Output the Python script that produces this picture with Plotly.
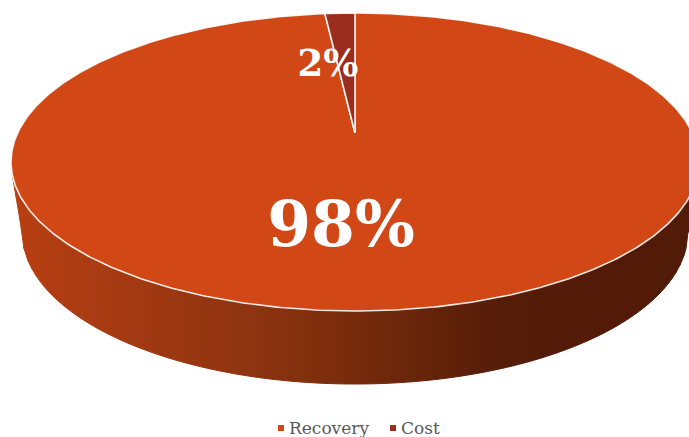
import numpy as np
import plotly.graph_objects as go

categories = ["Recovery", "Cost"]
values = [98.3, 1.7]
slice_colors = ["#D14816", "#9B2D1F"]

W, H = 689, 437
CX, CY, A, B = 355.0, 162.0, 344.0, 149.0     # top ellipse
BOT_CY, BOT_A, BOT_B = 232.0, 333.0, 152.0    # bottom ellipse
TOP_Y, APEX_Y, LOW_Y = 13.0, 133.0, 311.0


def project(theta):
    """Disc angle (clockwise from 12 o'clock) to picture position, with perspective."""
    u, v = np.sin(theta), np.cos(theta)
    g = (2 * APEX_Y - TOP_Y - LOW_Y) / (TOP_Y - LOW_Y)
    al = TOP_Y * (1 + g) - APEX_Y
    d = 1 + g * v
    k = A * np.sqrt(1 - g * g)
    return CX + k * u / d, (al * v + APEX_Y) / d


def wall_colour(x):
    stops_x = [12, 120, 250, 350, 500, 689]
    r = np.interp(x, stops_x, [184, 165, 142, 120, 85, 82])
    g = np.interp(x, stops_x, [63, 58, 52, 44, 28, 27])
    b = np.interp(x, stops_x, [18, 18, 16, 12, 8, 7])
    return f"rgb({r:.0f},{g:.0f},{b:.0f})"


fig = go.Figure()

def top_edge(x):
    return CY + B * np.sqrt(np.clip(1 - ((x - CX) / A) ** 2, 0, 1))


def bottom_edge(x):
    left = CX - BOT_A
    if x < left:
        return np.interp(x, [CX - A + 1, left], [top_edge(CX - A + 1), BOT_CY])
    return BOT_CY + BOT_B * np.sqrt(np.clip(1 - ((x - CX) / BOT_A) ** 2, 0, 1))


# side wall, drawn as narrow columns so that its shade can change from left to right
columns = np.arange(CX - A + 1, W + 4, 4.0)
for x0, x1 in zip(columns[:-1], columns[1:]):
    xs = np.linspace(x0, x1, 3)
    ty = [top_edge(x) - 3 for x in xs]
    by = [bottom_edge(x) for x in xs]
    col = wall_colour((x0 + x1) / 2)
    fig.add_trace(go.Scatter(
        x=list(xs) + list(xs[::-1]), y=ty + by[::-1], mode="lines", fill="toself",
        fillcolor=col, line=dict(color=col, width=1), hoverinfo="skip", showlegend=False))

# disc slices
total = sum(values)
start = 0.0
for name, val, col in zip(categories, values, slice_colors):
    end = start + val / total * 2 * np.pi
    th = np.linspace(start, end, max(6, int(val * 6)))
    px, py = project(th)
    fig.add_trace(go.Scatter(
        x=[CX] + list(px) + [CX], y=[APEX_Y] + list(py) + [APEX_Y], mode="lines", fill="toself",
        fillcolor=col, line=dict(color="rgba(255,255,255,0.9)", width=1.6),
        hoverinfo="skip", showlegend=False))
    start = end

# labels
label_pos = {"Recovery": (341, 230, 63), "Cost": (328, 67, 37)}
for name, val in zip(categories, values):
    lx, ly, size = label_pos[name]
    fig.add_trace(go.Scatter(
        x=[lx], y=[ly], mode="text", text=[f"<b>{round(val / total * 100)}%</b>"],
        textposition="middle center", textfont=dict(family="DejaVu Serif", size=size, color="white"),
        hoverinfo="skip", showlegend=False))

# legend entries
legend_x = {"Recovery": 281, "Cost": 393}
for name, col in zip(categories, slice_colors):
    fig.add_trace(go.Scatter(
        x=[legend_x[name]], y=[428], mode="markers", name=name,
        marker=dict(symbol="square", size=6, color=col), hoverinfo="skip", showlegend=False))
    fig.add_trace(go.Scatter(
        x=[legend_x[name] + 8], y=[429.5], mode="text", text=[name], textposition="middle right",
        textfont=dict(family="DejaVu Serif", size=17, color="#595959"),
        hoverinfo="skip", showlegend=False))

fig.update_xaxes(range=[0, W], visible=False, fixedrange=True)
fig.update_yaxes(range=[H, 0], visible=False, fixedrange=True)
fig.update_layout(
    width=W, height=H, margin=dict(l=0, r=0, t=0, b=0),
    paper_bgcolor="white", plot_bgcolor="white", showlegend=False,
)
fig.write_html("out.html", config=dict(displayModeBar=False),
               post_script="document.body.style.margin='0';")
